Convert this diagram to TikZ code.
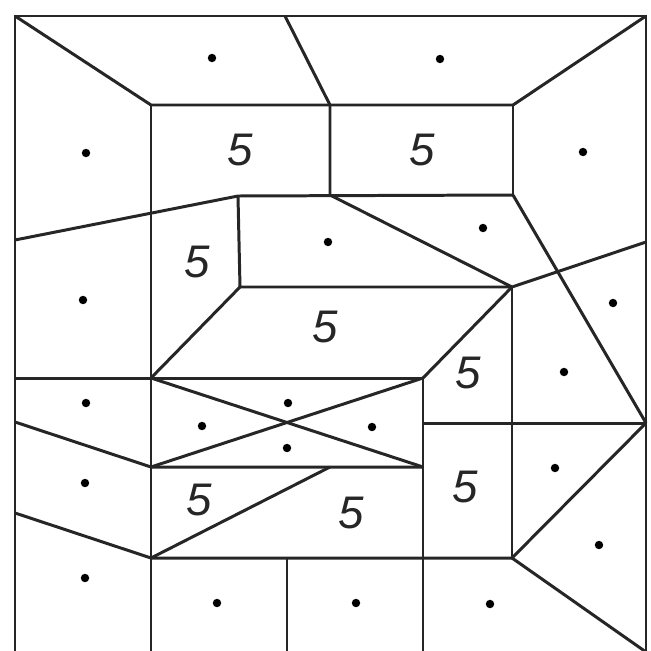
\documentclass[tikz,border=0pt]{standalone}
\usepackage{fontspec}
\setmainfont{Liberation Sans}
\usepackage{tikz}

\begin{document}
\begin{tikzpicture}[
  x=0.01cm, y=-0.01cm,
  edge/.style={line width=0.85pt, black!85},
  site/.style={circle, fill=black, inner sep=0pt, minimum size=2.4pt},
  five/.style={font=\itshape\fontsize{13}{13}\selectfont, text=black!85}
]
\useasboundingbox (0,0) rectangle (651,651);
\coordinate (tl) at (15,16);
\coordinate (tr) at (646,16);
\coordinate (bl) at (15,652);
\coordinate (br) at (646,652);
\coordinate (t1) at (285,16);
\coordinate (a1) at (151,105);
\coordinate (a2) at (330,105);
\coordinate (a3) at (513,105);
\coordinate (l0) at (15,240);
\coordinate (c1) at (238,196);
\coordinate (c2) at (330,195);
\coordinate (c3) at (513,195);
\coordinate (d1) at (240,287);
\coordinate (d2) at (512,287);
\coordinate (r1) at (646,242);
\coordinate (l3) at (15,378);
\coordinate (e1) at (151,378);
\coordinate (e2) at (423,378);
\coordinate (f1) at (423,423);
\coordinate (r2) at (646,423);
\coordinate (l1) at (15,422);
\coordinate (g1) at (151,467);
\coordinate (g3) at (330,467);
\coordinate (g2) at (423,467);
\coordinate (l2) at (15,513);
\coordinate (h1) at (151,558);
\coordinate (h3) at (287,558);
\coordinate (h2) at (512,558);
\coordinate (b1) at (151,652);
\coordinate (b3) at (287,652);
\coordinate (b2) at (423,652);

\draw[edge] (bl) -- (tl) -- (tr) -- (br);
\draw[edge] (tl) -- (a1) -- (a3) -- (tr);
\draw[edge] (t1) -- (a2) -- (c2);
\draw[edge] (a3) -- (c3);
\draw[edge] (a1) -- (b1);
\draw[edge] (l0) -- (c1) -- (c3);
\draw[edge] (c1) -- (d1) -- (d2);
\draw[edge] (c2) -- (d2) -- (r1);
\draw[edge] (c3) -- (r2);
\draw[edge] (d1) -- (e1);
\draw[edge] (d2) -- (e2);
\draw[edge] (d2) -- (h2);
\draw[edge] (l3) -- (e2) -- (b2);
\draw[edge] (f1) -- (r2);
\draw[edge] (e1) -- (g2);
\draw[edge] (g1) -- (e2);
\draw[edge] (l1) -- (g1) -- (g2);
\draw[edge] (g3) -- (h1);
\draw[edge] (l2) -- (h1) -- (h2);
\draw[edge] (h3) -- (b3);
\draw[edge] (h2) -- (r2);
\draw[edge] (h2) -- (br);

\node[site] (s1) at (212,58) {};
\node[site] (s2) at (440,59) {};
\node[site] (s3) at (86,153) {};
\node[site] (s4) at (583,152) {};
\node[site] (s5) at (328,242) {};
\node[site] (s6) at (483,228) {};
\node[site] (s7) at (83,300) {};
\node[site] (s8) at (613,303) {};
\node[site] (s9) at (564,372) {};
\node[site] (s10) at (86,403) {};
\node[site] (s11) at (202,426) {};
\node[site] (s12) at (288,403) {};
\node[site] (s13) at (287,448) {};
\node[site] (s14) at (372,427) {};
\node[site] (s15) at (555,468) {};
\node[site] (s16) at (85,483) {};
\node[site] (s17) at (599,545) {};
\node[site] (s18) at (85,578) {};
\node[site] (s19) at (217,603) {};
\node[site] (s20) at (356,603) {};
\node[site] (s21) at (490,604) {};

\node[five] (n1) at (240,150) {5};
\node[five] (n2) at (422,150) {5};
\node[five] (n3) at (197,262) {5};
\node[five] (n4) at (325,327) {5};
\node[five] (n5) at (468,373) {5};
\node[five] (n6) at (465,487) {5};
\node[five] (n7) at (199,500) {5};
\node[five] (n8) at (351,513) {5};
\end{tikzpicture}
\end{document}
